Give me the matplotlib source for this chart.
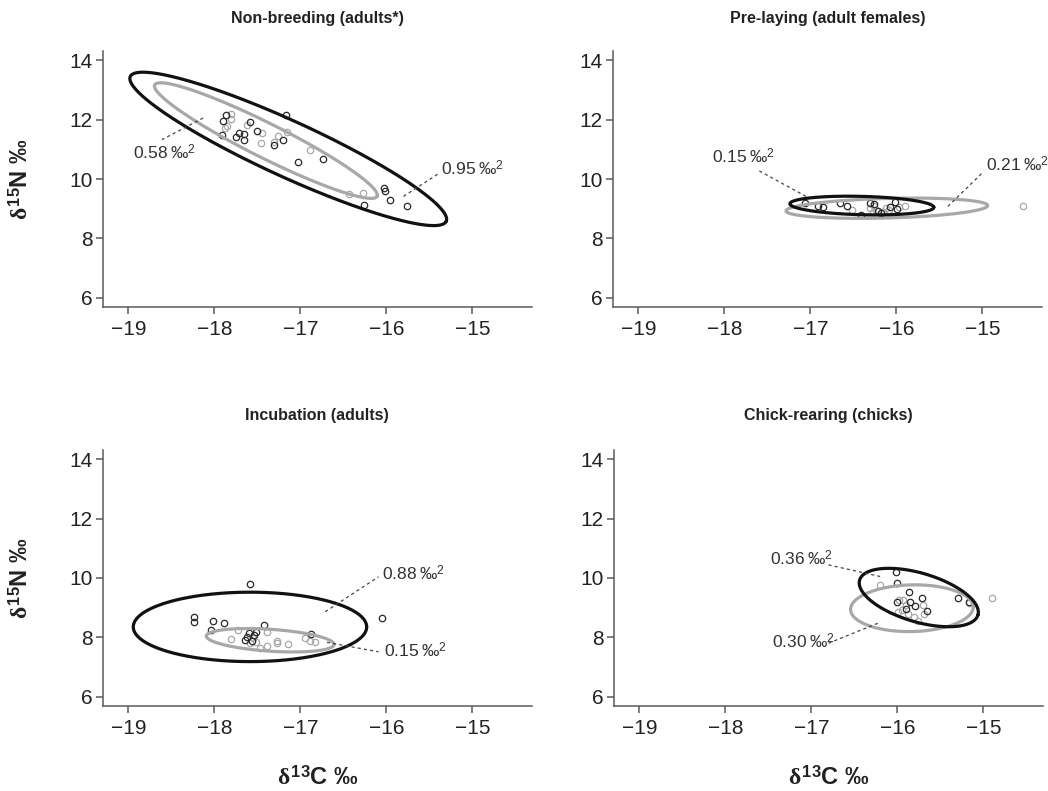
import numpy as np
import matplotlib
matplotlib.use("Agg")
import matplotlib.pyplot as plt

plt.rcParams['font.family'] = ['Liberation Sans', 'DejaVu Sans']
plt.rcParams['mathtext.fontset'] = 'custom'
plt.rcParams['mathtext.rm'] = 'Liberation Sans'
plt.rcParams['mathtext.bf'] = 'Liberation Sans:bold'
plt.rcParams['mathtext.it'] = 'Liberation Serif:bold'

# ---------------- data ----------------
panel_titles = ["Non-breeding (adults*)", "Pre-laying (adult females)",
                "Incubation (adults)", "Chick-rearing (chicks)"]
x_ticks = [-19, -18, -17, -16, -15]
y_ticks = [6, 8, 10, 12, 14]

# Non-breeding
nb_black_x = [-17.86, -17.90, -17.91, -17.75, -17.71, -17.66, -17.65, -17.59, -17.50, -17.31,
              -17.20, -17.17, -17.03, -16.74, -16.26, -16.03, -16.02, -15.96, -15.76]
nb_black_y = [12.17, 11.95, 11.50, 11.42, 11.56, 11.52, 11.33, 11.94, 11.63, 11.14,
              11.33, 12.17, 10.58, 10.68, 9.14, 9.70, 9.59, 9.31, 9.08]
nb_gray_x = [-17.81, -17.81, -17.88, -17.85, -17.62, -17.45, -17.46, -17.31, -17.26, -17.15,
             -16.89, -16.43, -16.27]
nb_gray_y = [12.21, 12.04, 11.72, 11.78, 11.84, 11.56, 11.22, 11.24, 11.47, 11.58,
             10.97, 9.51, 9.53]

# Pre-laying
pl_black_x = [-17.06, -16.91, -16.85, -16.65, -16.57, -16.41, -16.31, -16.26, -16.21, -16.18,
              -16.07, -16.02, -15.99]
pl_black_y = [9.18, 9.08, 9.06, 9.20, 9.08, 8.80, 9.18, 9.15, 8.94, 8.87,
              9.06, 9.22, 9.00]
pl_gray_x = [-16.52, -16.30, -16.26, -16.24, -16.27, -16.16, -16.12, -16.08, -15.97, -15.90, -14.53]
pl_gray_y = [8.97, 9.03, 9.08, 8.97, 8.88, 8.88, 9.03, 8.95, 9.06, 9.08, 9.11]

# Incubation
in_black_x = [-17.58, -18.24, -18.24, -18.02, -17.89, -18.04, -17.42, -17.64, -17.60, -17.56,
              -17.54, -17.51, -17.62, -16.87, -16.05]
in_black_y = [9.80, 8.67, 8.50, 8.56, 8.49, 8.24, 8.41, 7.91, 8.15, 7.88,
              8.08, 8.17, 8.00, 8.12, 8.66]
in_gray_x = [-17.80, -17.73, -17.51, -17.47, -17.39, -17.39, -17.27, -17.27, -17.14, -16.95,
             -16.89, -16.83, -17.55, -17.58]
in_gray_y = [7.94, 8.24, 7.85, 7.65, 8.19, 7.72, 7.88, 7.82, 7.77, 7.96,
             7.87, 7.84, 7.98, 7.80]

# Chick-rearing
cr_black_x = [-16.01, -16.00, -15.86, -15.71, -16.00, -15.85, -15.79, -15.90, -15.66, -15.29, -15.17]
cr_black_y = [10.19, 9.82, 9.51, 9.33, 9.18, 9.18, 9.07, 8.96, 8.90, 9.32, 9.18]
cr_gray_x = [-16.20, -14.90, -15.98, -15.93, -15.90, -15.95, -15.99, -15.87, -15.81, -15.76,
             -15.70, -15.69, -15.17]
cr_gray_y = [9.77, 9.34, 9.26, 9.24, 9.10, 8.93, 8.84, 8.79, 8.69, 8.54,
             9.10, 8.79, 9.16]

# Ellipses: centre (cx, cy) and two conjugate half-axis vectors U, V (data units)
ell_black = [(-17.14, 11.02, 1.837, -2.441, -0.135, -0.852),
             (-16.40, 9.11, 0.837, -0.06, 0.0, 0.31),
             (-17.585, 8.35, 1.357, 0.0, 0.0, 1.17),
             (-15.75, 9.34, 0.688, -0.590, -0.080, -0.789)]
ell_gray = [(-17.40, 11.30, 1.293, -1.879, -0.090, -0.518),
            (-16.11, 9.02, 1.172, 0.09, 0.0, 0.33),
            (-17.35, 7.90, 0.742, -0.14, 0.0, 0.37),
            (-15.83, 8.98, 0.713, 0.04, 0.0, 0.787)]

# Annotations: (label, line x0, y0, x1, y1, text x, text y)
annotations = [
    [("0.58", -18.13, 12.06, -18.61, 11.33, -18.95, 10.89),
     ("0.95", -15.80, 9.42, -15.38, 10.21, -15.36, 10.35)],
    [("0.15", -17.05, 9.42, -17.62, 10.32, -18.14, 10.76),
     ("0.21", -15.40, 9.08, -15.00, 10.21, -14.96, 10.49)],
    [("0.88", -16.71, 8.86, -16.09, 10.04, -16.05, 10.13),
     ("0.15", -16.69, 7.83, -16.09, 7.51, -16.03, 7.54)],
    [("0.36", -16.80, 10.44, -16.20, 10.05, -17.48, 10.64),
     ("0.30", -16.80, 7.80, -16.22, 8.48, -17.46, 7.85)],
]

black_pts = [(nb_black_x, nb_black_y), (pl_black_x, pl_black_y),
             (in_black_x, in_black_y), (cr_black_x, cr_black_y)]
gray_pts = [(nb_gray_x, nb_gray_y), (pl_gray_x, pl_gray_y),
            (in_gray_x, in_gray_y), (cr_gray_x, cr_gray_y)]

PERMIL = '\u2030'

# ---------------- plot ----------------
W, H = 1048, 791
fig = plt.figure(figsize=(W / 100, H / 100), dpi=100)

ax_w, ax_h = 428.7, 256.3
boxes = [(103, 307.3), (613, 307.3), (103, 706.1), (614, 706.1)]
XLIM = (-19.294, -14.309)
YLIM = (5.68, 14.32)

spine_col = '#5a5a5a'
black_col = '#2a2a2a'
gray_col = '#a8a8a8'

t = np.linspace(0, 2 * np.pi, 400)

def draw_ellipse(ax, p, color):
    cx, cy, ux, uy, vx, vy = p
    ex = cx + ux * np.cos(t) + vx * np.sin(t)
    ey = cy + uy * np.cos(t) + vy * np.sin(t)
    ax.plot(ex, ey, color=color, lw=2.3, solid_capstyle='round', zorder=3)

for i, (lx, by) in enumerate(boxes):
    ax = fig.add_axes([lx / W, 1 - by / H, ax_w / W, ax_h / H])
    ax.set_xlim(*XLIM)
    ax.set_ylim(*YLIM)
    ax.set_xticks(x_ticks)
    ax.set_xticklabels(['\u2212%d' % abs(v) for v in x_ticks])
    ax.set_yticks(y_ticks)
    for s in ['top', 'right']:
        ax.spines[s].set_visible(False)
    for s in ['left', 'bottom']:
        ax.spines[s].set_color(spine_col)
        ax.spines[s].set_linewidth(1.1)
    ax.tick_params(direction='out', length=5, width=1.1, color=spine_col,
                   labelsize=15, labelcolor='#222222', pad=4)
    ax.tick_params(axis='y', pad=2.5)

    gx, gy = gray_pts[i]
    bx, bly = black_pts[i]
    ax.plot(gx, gy, 'o', mfc='none', mec=gray_col, mew=0.9, ms=4.6, zorder=2, clip_on=False)
    ax.plot(bx, bly, 'o', mfc='none', mec=black_col, mew=0.9, ms=4.6, zorder=2, clip_on=False)

    draw_ellipse(ax, ell_gray[i], gray_col)
    draw_ellipse(ax, ell_black[i], '#111111')

    for (lab, x0, y0, x1, y1, tx, ty) in annotations[i]:
        ax.plot([x0, x1], [y0, y1], color='#444444', lw=0.9, ls=(0, (2.5, 2.5)), zorder=4)
        ax.text(tx, ty, lab + '\u2009' + PERMIL + '$^{\\mathrm{2}}$', fontsize=12.5,
                color='#333333', ha='left', va='center', clip_on=False)

    cx_fig = (lx + ax_w / 2) / W
    title_y = 18 if by < 400 else 416
    fig.text(cx_fig, 1 - title_y / H, panel_titles[i], ha='center', va='center',
             fontsize=11.5, fontweight='bold', color='#222222')

    if i in (0, 2):
        fig.text(21 / W, 1 - (by - ax_h / 2) / H,
                 '$\\delta^{\\mathbf{15}}\\mathbf{N}$ ' + PERMIL,
                 rotation=90, ha='center', va='center', fontsize=17, fontweight='bold',
                 color='#222222')
    if i in (2, 3):
        fig.text(cx_fig, 1 - 778 / H, '$\\delta^{\\mathbf{13}}\\mathbf{C}$ ' + PERMIL,
                 ha='center', va='center', fontsize=17, fontweight='bold', color='#222222')

fig.savefig('out.png', dpi=100)
